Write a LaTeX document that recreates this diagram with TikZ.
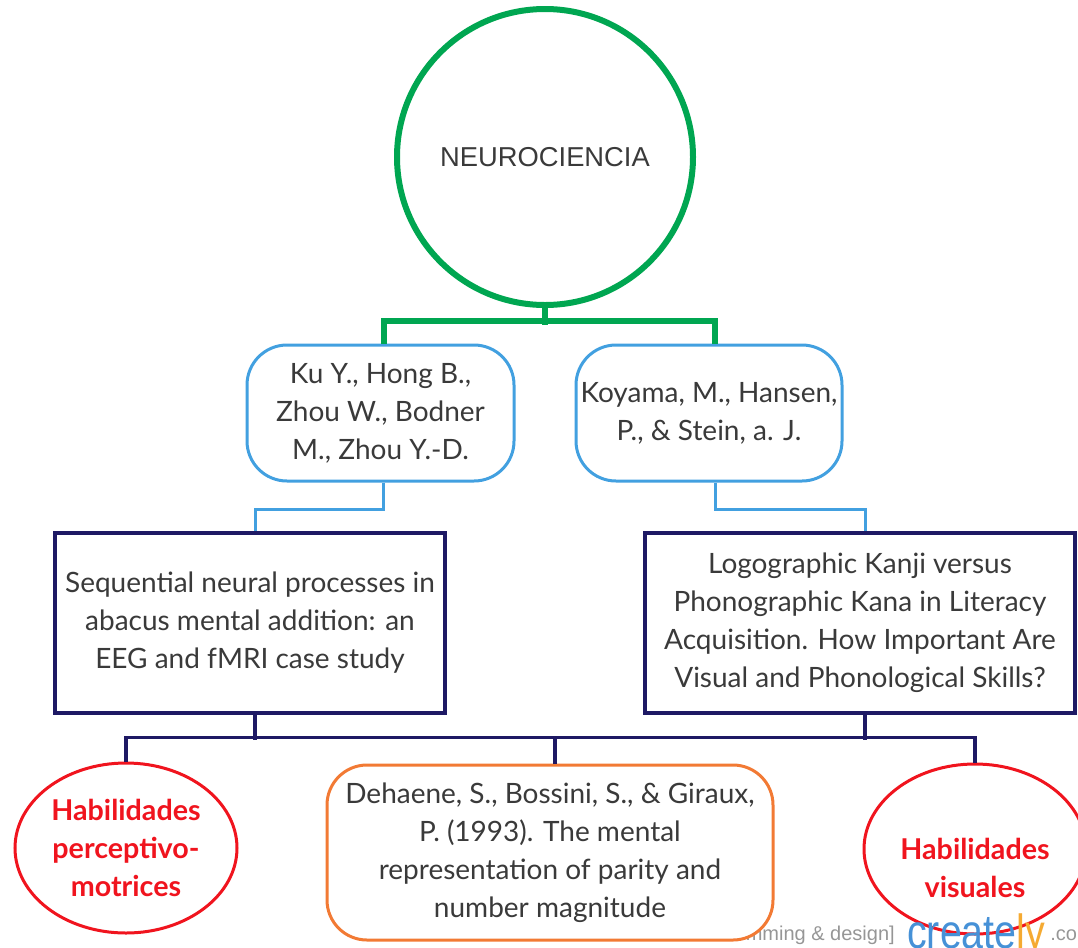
\documentclass[tikz,border=0pt]{standalone}
\usepackage{fontspec}
\setmainfont{Lato}
\newfontfamily\arialf{Liberation Sans}
\usetikzlibrary{shapes.geometric,calc}
\definecolor{cgreen}{RGB}{0,166,81}
\definecolor{cblue}{RGB}{66,160,224}
\definecolor{cnavy}{RGB}{30,25,100}
\definecolor{cred}{RGB}{240,20,30}
\definecolor{corange}{RGB}{242,122,52}
\definecolor{ctext}{RGB}{58,58,58}
\definecolor{cwm}{RGB}{150,150,150}
\definecolor{cwmblue}{RGB}{70,145,215}
\definecolor{cwmorange}{RGB}{245,170,50}
\tikzset{
  txt/.style={font={\fontsize{21pt}{28.5pt}\selectfont}, text=ctext, align=center, inner sep=0pt},
  rootnode/.style={circle, draw=cgreen, line width=4.5pt, minimum size=222pt, inner sep=0pt,
    font={\arialf\fontsize{20.5pt}{24pt}\selectfont}, text=ctext},
  authbox/.style={txt, draw=cblue, line width=2.25pt, rounded corners=30pt, fill=white},
  titlebox/.style={txt, draw=cnavy, line width=2.6pt, minimum height=135pt, fill=white},
  refbox/.style={txt, draw=corange, line width=2.25pt, rounded corners=30pt, fill=white,
    minimum width=334.5pt, minimum height=131.25pt},
  skill/.style={ellipse, draw=cred, line width=2.25pt, minimum width=166.5pt, minimum height=127.5pt,
    inner sep=0pt, align=center, text=cred, font={\bfseries\fontsize{21.5pt}{28.5pt}\selectfont}},
  skilltext/.style={inner sep=0pt, align=center, text=cred, font={\bfseries\fontsize{21.5pt}{28.5pt}\selectfont}},
  gconn/.style={draw=cgreen, line width=4.5pt},
  bconn/.style={draw=cblue, line width=2.25pt},
  nconn/.style={draw=cnavy, line width=2.6pt},
}
\begin{document}
\begin{tikzpicture}[x=0.75pt, y=-0.75pt]
\useasboundingbox (0,0) rectangle (1078,947);
\clip (0,0) rectangle (1078,947);
% watermark (partly under the shapes)
\node[anchor=base east, inner sep=0pt, text=cwm, font={\arialf\fontsize{15pt}{18pt}\selectfont}] (wm1) at (895,940) {mming \& design]};
\node[anchor=base west, inner sep=0pt, font={\arialf\fontsize{15pt}{18pt}\selectfont}, text=cwm] (wm3) at (1050,940) {.co};
% nodes
\node[rootnode] (N) at (545,157) {NEUROCIENCIA};
\node[authbox, minimum width=200.25pt, minimum height=102pt] (A) at (380.5,413) {Ku Y., Hong B.,\\Zhou W., Bodner\\M., Zhou Y.-D.};
\node[authbox, minimum width=199.5pt, minimum height=102pt] (B) at (709,413) {Koyama, M., Hansen,\\P., \& Stein, a. J.};
\node[titlebox, minimum width=292.5pt] (C) at (250,623) {Sequential neural processes in\\abacus mental addition: an\\EEG and fMRI case study};
\node[titlebox, minimum width=322.5pt] (D) at (860,623) {Logographic Kanji versus\\Phonographic Kana in Literacy\\Acquisition. How Important Are\\Visual and Phonological Skills?};
\node[refbox] (O) at (550,852.5) {Dehaene, S., Bossini, S., \& Giraux,\\P. (1993). The mental\\representation of parity and\\number magnitude};
\node[skill] (E1) at (126,848) {Habilidades\\perceptivo-\\motrices};
\node[skill] (E2) at (975,849) {};
\node[skilltext] (E2t) at (975,868) {Habilidades\\visuales};
% creately logo on top
\node[anchor=base west, inner sep=0pt, font={\arialf\fontsize{36pt}{40pt}\selectfont}, xscale=0.82] (wm2) at (907,948) {\textcolor{cwmblue}{create}\textcolor{cwmorange}{ly}};
% green connectors
\draw[gconn] (N.south) -- ++(0,17);
\draw[gconn] ($(A.north)+(3,0)$) -- ++(0,-23) -| ($(B.north)+(6,0)$);
% blue connectors
\draw[bconn] ($(A.south)+(3,0)$) -- ++(0,27) -| ($(C.north)+(5,0)$);
\draw[bconn] ($(B.south)+(6,0)$) -- ++(0,27) -| ($(D.north)+(5,0)$);
% navy connectors
\draw[nconn] ($(C.south)+(5,0)$) -- ++(0,25);
\draw[nconn] ($(D.south)+(5,0)$) -- ++(0,25);
\draw[nconn] (E1.north) -- ++(0,-24) -| (E2.north);
\draw[nconn] ($(O.north)+(5,0)$) -- ++(0,-26);
\end{tikzpicture}
\end{document}
